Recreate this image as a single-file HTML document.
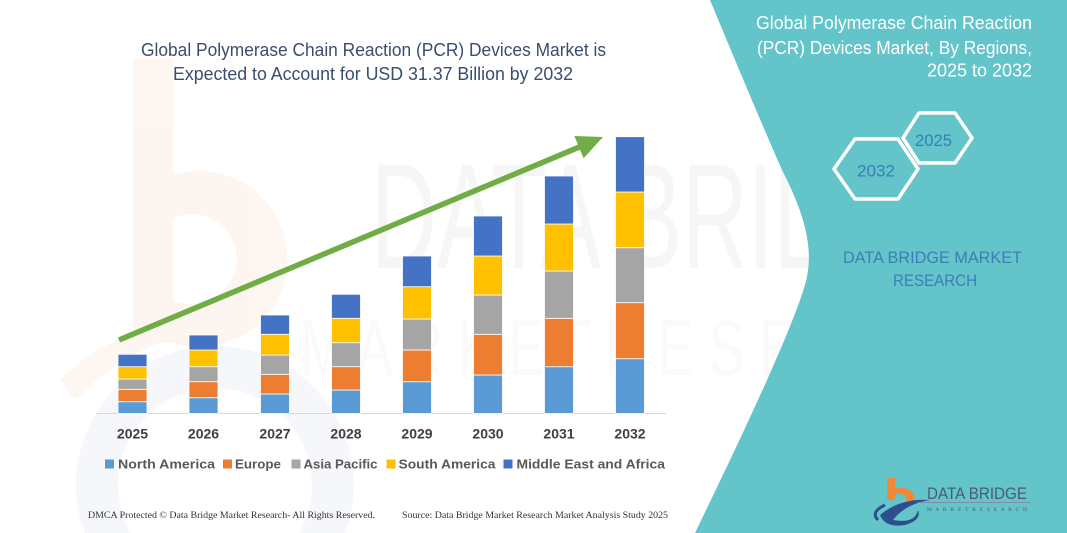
<!DOCTYPE html>
<html><head><meta charset="utf-8"><style>
html,body{margin:0;padding:0;background:#fff;width:1067px;height:533px;overflow:hidden;}
svg{display:block;overflow:hidden;}
</style></head><body>
<svg width="1067" height="533" viewBox="0 0 1067 533" xmlns="http://www.w3.org/2000/svg">
<rect width="1067" height="533" fill="#ffffff"/>
<!-- faint watermarks -->
<path d="M84.6,533 A139,139 0 1 1 345.4,533 L299.3,533 A97,97 0 1 0 130.7,533 Z" fill="#f1f4f9" opacity="0.7"/>
<g opacity="0.55">
<rect x="133" y="58" width="40" height="285" fill="#fdeee3"/>
<path d="M173,175 A88,88 0 1 1 173,343 L173,300 A45,45 0 1 0 173,218 Z" fill="#fdeee3"/>
<path d="M60,380 Q120,320 200,330 Q130,345 75,400 Z" fill="#fdeee3"/>
</g>
<text x="371" y="268" font-family="Liberation Sans, sans-serif" font-size="150" fill="#000" opacity="0.03" textLength="600" lengthAdjust="spacingAndGlyphs">DATA BRIDGE</text>
<text x="300" y="375" font-family="Liberation Sans, sans-serif" font-size="80" fill="#000" opacity="0.015" textLength="700" lengthAdjust="spacingAndGlyphs">M A R K E T  R E S E A R C H</text>

<!-- teal panel -->
<path d="M710,0 C735,60 760,120 782,170 C805,215 815,250 805,285 C790,335 740,440 695,533 L1067,533 L1067,0 Z" fill="#63c4c9"/>

<!-- left title -->
<g font-family="Liberation Sans, sans-serif" font-size="18" fill="#3b4d6e">
<text x="141" y="56" textLength="465" lengthAdjust="spacingAndGlyphs">Global Polymerase Chain Reaction (PCR) Devices Market is</text>
<text x="173" y="80" textLength="400" lengthAdjust="spacingAndGlyphs">Expected to Account for USD 31.37 Billion by 2032</text>
</g>

<!-- axis baseline -->
<line x1="96" y1="413.5" x2="666" y2="413.5" stroke="#d9d9d9" stroke-width="1"/>

<!-- bars -->
<g stroke="#ffffff" stroke-width="0.8">
<rect x="118" y="401.7" width="29" height="11.8" fill="#5b9bd5"/>
<rect x="118" y="389.3" width="29" height="12.4" fill="#ed7d31"/>
<rect x="118" y="379" width="29" height="10.3" fill="#a5a5a5"/>
<rect x="118" y="366.7" width="29" height="12.3" fill="#ffc000"/>
<rect x="118" y="354.3" width="29" height="12.4" fill="#4472c4"/>
<rect x="189" y="397.7" width="29" height="15.8" fill="#5b9bd5"/>
<rect x="189" y="381.7" width="29" height="16" fill="#ed7d31"/>
<rect x="189" y="366.7" width="29" height="15" fill="#a5a5a5"/>
<rect x="189" y="350" width="29" height="16.7" fill="#ffc000"/>
<rect x="189" y="335" width="29" height="15" fill="#4472c4"/>
<rect x="260.5" y="394" width="29" height="19.5" fill="#5b9bd5"/>
<rect x="260.5" y="374.3" width="29" height="19.7" fill="#ed7d31"/>
<rect x="260.5" y="355" width="29" height="19.3" fill="#a5a5a5"/>
<rect x="260.5" y="334.3" width="29" height="20.7" fill="#ffc000"/>
<rect x="260.5" y="315" width="29" height="19.3" fill="#4472c4"/>
<rect x="331.5" y="390" width="29" height="23.5" fill="#5b9bd5"/>
<rect x="331.5" y="366.7" width="29" height="23.3" fill="#ed7d31"/>
<rect x="331.5" y="342.7" width="29" height="24" fill="#a5a5a5"/>
<rect x="331.5" y="318.3" width="29" height="24.4" fill="#ffc000"/>
<rect x="331.5" y="294.3" width="29" height="24" fill="#4472c4"/>
<rect x="402.5" y="381.7" width="29" height="31.8" fill="#5b9bd5"/>
<rect x="402.5" y="350" width="29" height="31.7" fill="#ed7d31"/>
<rect x="402.5" y="319" width="29" height="31" fill="#a5a5a5"/>
<rect x="402.5" y="286.7" width="29" height="32.3" fill="#ffc000"/>
<rect x="402.5" y="256" width="29" height="30.7" fill="#4472c4"/>
<rect x="473.5" y="375" width="29" height="38.5" fill="#5b9bd5"/>
<rect x="473.5" y="334.3" width="29" height="40.7" fill="#ed7d31"/>
<rect x="473.5" y="295" width="29" height="39.3" fill="#a5a5a5"/>
<rect x="473.5" y="256" width="29" height="39" fill="#ffc000"/>
<rect x="473.5" y="216" width="29" height="40" fill="#4472c4"/>
<rect x="544.5" y="366.7" width="29" height="46.8" fill="#5b9bd5"/>
<rect x="544.5" y="318.3" width="29" height="48.4" fill="#ed7d31"/>
<rect x="544.5" y="271" width="29" height="47.3" fill="#a5a5a5"/>
<rect x="544.5" y="224" width="29" height="47" fill="#ffc000"/>
<rect x="544.5" y="176" width="29" height="48" fill="#4472c4"/>
<rect x="615.5" y="358.7" width="29" height="54.8" fill="#5b9bd5"/>
<rect x="615.5" y="302.7" width="29" height="56" fill="#ed7d31"/>
<rect x="615.5" y="247.7" width="29" height="55" fill="#a5a5a5"/>
<rect x="615.5" y="192" width="29" height="55.7" fill="#ffc000"/>
<rect x="615.5" y="136.7" width="29" height="55.3" fill="#4472c4"/>
</g>

<!-- arrow -->
<line x1="119" y1="340" x2="581" y2="146.3" stroke="#70ad47" stroke-width="5.5"/>
<polygon points="603,137 583.6,158.2 574.4,136" fill="#70ad47"/>

<!-- year labels -->
<g font-family="Liberation Sans, sans-serif" font-size="14" font-weight="bold" fill="#404040" text-anchor="middle">
<text x="132.5" y="438.5">2025</text>
<text x="203.5" y="438.5">2026</text>
<text x="275" y="438.5">2027</text>
<text x="346" y="438.5">2028</text>
<text x="417" y="438.5">2029</text>
<text x="488" y="438.5">2030</text>
<text x="559" y="438.5">2031</text>
<text x="630" y="438.5">2032</text>
</g>

<!-- legend -->
<rect x="105" y="459.5" width="9" height="9" fill="#5b9bd5"/>
<rect x="223" y="459.5" width="9" height="9" fill="#ed7d31"/>
<rect x="291.5" y="459.5" width="9" height="9" fill="#a5a5a5"/>
<rect x="386.5" y="459.5" width="9" height="9" fill="#ffc000"/>
<rect x="503.5" y="459.5" width="9" height="9" fill="#4472c4"/>
<g font-family="Liberation Sans, sans-serif" font-size="13" font-weight="bold" fill="#595959">
<text x="118" y="468.5" textLength="97" lengthAdjust="spacingAndGlyphs">North America</text>
<text x="235" y="468.5" textLength="46" lengthAdjust="spacingAndGlyphs">Europe</text>
<text x="303.5" y="468.5" textLength="74" lengthAdjust="spacingAndGlyphs">Asia Pacific</text>
<text x="398.5" y="468.5" textLength="97" lengthAdjust="spacingAndGlyphs">South America</text>
<text x="516.5" y="468.5" textLength="148.5" lengthAdjust="spacingAndGlyphs">Middle East and Africa</text>
</g>

<!-- footer -->
<g font-family="Liberation Serif, serif" font-size="9.5" fill="#333">
<text x="88" y="518" textLength="287" lengthAdjust="spacingAndGlyphs">DMCA Protected © Data Bridge Market Research-  All Rights Reserved.</text>
<text x="402" y="518" textLength="266" lengthAdjust="spacingAndGlyphs">Source: Data Bridge Market Research  Market Analysis Study 2025</text>
</g>

<!-- right title -->
<g font-family="Liberation Sans, sans-serif" font-size="18" fill="#ffffff">
<text x="756" y="29" textLength="276" lengthAdjust="spacingAndGlyphs">Global Polymerase Chain Reaction</text>
<text x="757" y="54" textLength="275" lengthAdjust="spacingAndGlyphs">(PCR) Devices Market, By Regions,</text>
<text x="927" y="76.5" textLength="105" lengthAdjust="spacingAndGlyphs">2025 to 2032</text>
</g>

<!-- hexagons -->
<g fill="none" stroke="#ffffff" stroke-width="3.5" stroke-linejoin="round">
<polygon points="834,169 855,139 898,139 918,169 898,199 855,199"/>
<polygon points="903,138 919,113 955,113 972,138 955,163 919,163"/>
</g>
<g font-family="Liberation Sans, sans-serif" font-size="17" fill="#3a7db5">
<text x="857" y="176.5" textLength="38" lengthAdjust="spacingAndGlyphs">2032</text>
<text x="915" y="146" textLength="37" lengthAdjust="spacingAndGlyphs">2025</text>
</g>

<!-- DBMR text -->
<g font-family="Liberation Sans, sans-serif" font-size="17" fill="#3b7fb6">
<text x="843" y="263" textLength="179" lengthAdjust="spacingAndGlyphs">DATA BRIDGE MARKET</text>
<text x="893" y="286" textLength="84" lengthAdjust="spacingAndGlyphs">RESEARCH</text>
</g>

<!-- logo -->
<g>
<rect x="887" y="478" width="8" height="22" fill="#f0883a"/>
<path d="M887,493 Q900,484 910,490 Q918,497 912,505 L904,505 Q909,498 902,494 Q895,492 887,498 Z" fill="#f0883a"/>
<path d="M880,515 Q900,498 930,500 Q905,504 893,520 Q915,524 918,510 Q922,520 905,525 Q885,528 880,515 Z" fill="#2f4f8a"/>
<path d="M878,520 Q870,512 885,505" stroke="#2f4f8a" stroke-width="3" fill="none"/>
<text x="927" y="499" font-family="Liberation Sans, sans-serif" font-size="17" fill="#4a5a78" textLength="100" lengthAdjust="spacingAndGlyphs">DATA BRIDGE</text>
<line x1="918" y1="502.5" x2="1031" y2="502.5" stroke="#7e8ea8" stroke-width="1"/>
<text x="927" y="511" font-family="Liberation Serif, serif" font-size="5.5" fill="#4a5a78" textLength="100" lengthAdjust="spacing">M A R K E T   R E S E A R C H</text>
</g>
</svg>
</body></html>
